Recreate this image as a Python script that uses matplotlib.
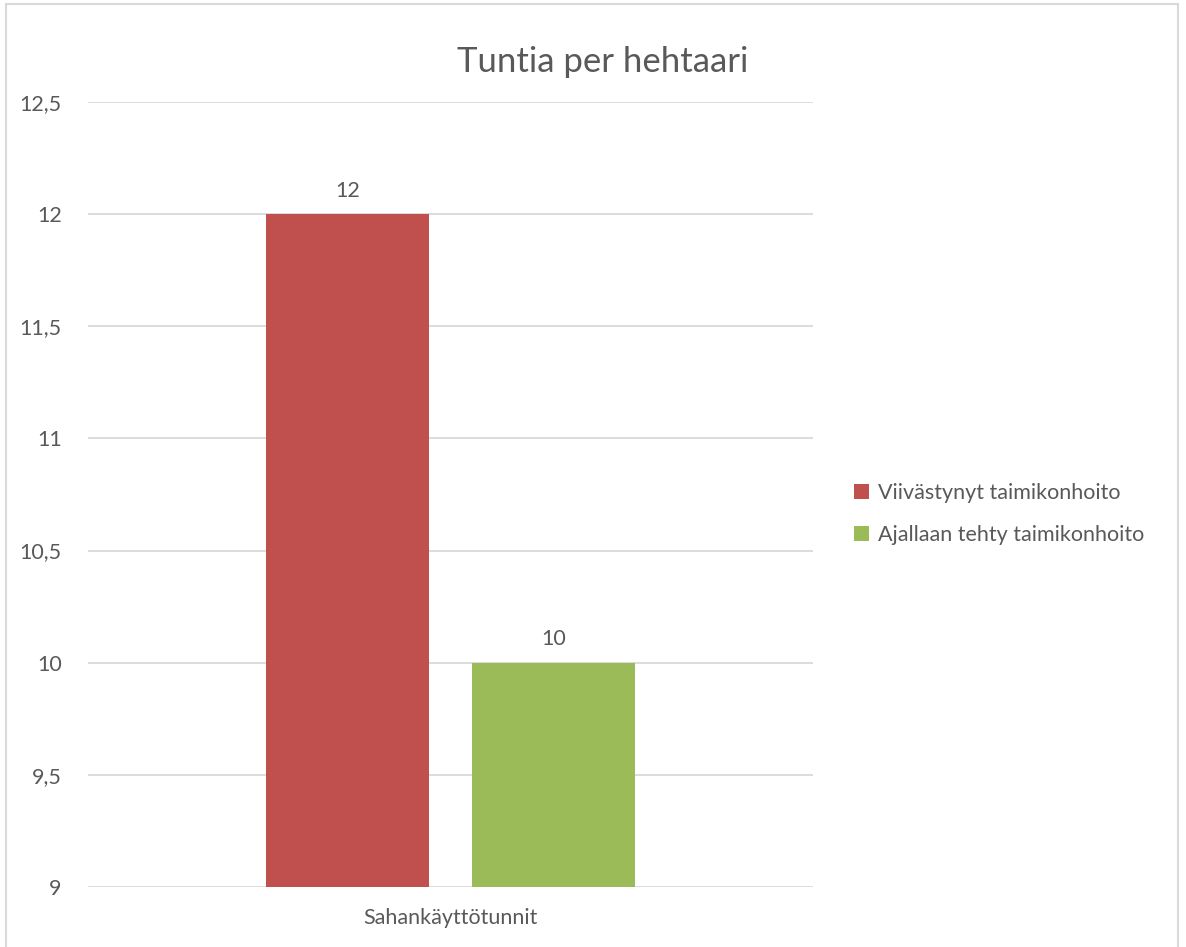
import matplotlib.pyplot as plt
from matplotlib.patches import Rectangle

plt.rcParams['font.family'] = ['Lato', 'DejaVu Sans']

# data
category = ["Sahankäyttötunnit"]
series = ["Viivästynyt taimikonhoito", "Ajallaan tehty taimikonhoito"]
values = [12, 10]
colors = ["#C0504D", "#9BBB59"]
yticks = [9, 9.5, 10, 10.5, 11, 11.5, 12, 12.5]
ytick_labels = ["9", "9,5", "10", "10,5", "11", "11,5", "12", "12,5"]

txt = "#595959"
fs = 15.5

fig = plt.figure(figsize=(11.86, 9.47), dpi=100)
ax = fig.add_axes([88 / 1186, 1 - 887 / 947, (813 - 88) / 1186, (887 - 102) / 947])

offsets = [-0.1425, 0.1425]
width = 0.225
for name, v, c, off in zip(series, values, colors, offsets):
    ax.bar(0 + off, v - 9, bottom=9, width=width, color=c, label=name, zorder=3)
    ax.text(0 + off, v + 0.06, str(v), ha="center", va="bottom", fontsize=fs, color=txt)

ax.set_xlim(-0.5, 0.5)
ax.set_ylim(9, 12.5)
ax.set_yticks(yticks)
ax.set_yticklabels(ytick_labels, fontsize=fs, color=txt)
ax.set_xticks([0])
ax.set_xticklabels(category, fontsize=fs, color=txt)
ax.tick_params(axis="both", length=0)
ax.tick_params(axis="y", pad=19)
ax.tick_params(axis="x", pad=15)
ax.grid(axis="y", color="#D9D9D9", linewidth=1.3, zorder=0)
for s in ax.spines.values():
    s.set_visible(False)

fig.text(603 / 1186, 1 - 62 / 947, "Tuntia per hehtaari", ha="center", va="center",
         fontsize=25, color=txt)

leg = fig.legend(loc="upper left", bbox_to_anchor=(835 / 1186, 1 - 464 / 947),
                 frameon=False, fontsize=fs, labelcolor=txt, handlelength=0.7,
                 handleheight=0.7, handletextpad=0.4, labelspacing=1.0)

fig.patches.append(Rectangle((6 / 1186, -0.01), (1178 - 6) / 1186, (947 - 4) / 947 + 0.01,
                             transform=fig.transFigure, fill=False,
                             edgecolor="#D9D9D9", linewidth=1.5))

fig.savefig("out.png", dpi=100)
